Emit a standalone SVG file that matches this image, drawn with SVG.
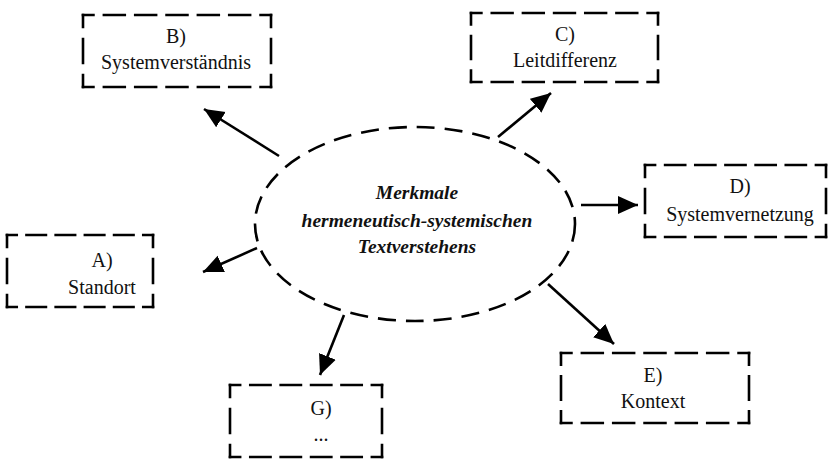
<svg xmlns="http://www.w3.org/2000/svg" width="832" height="459" viewBox="0 0 832 459">
<style>
.bx path{fill:none;stroke:#000;stroke-width:2.6;stroke-dasharray:20 10;stroke-dashoffset:10;stroke-linecap:square}
.lbl{font-family:"Liberation Serif","Times New Roman",serif;font-size:20px;text-anchor:middle;fill:#111}
.ttl{font-family:"Liberation Serif","Times New Roman",serif;font-size:19.5px;font-style:italic;font-weight:bold;text-anchor:middle;fill:#111}
.cn line{stroke:#000;stroke-width:2.6;marker-end:url(#ah)}
</style>
<defs>
<marker id="ah" markerUnits="userSpaceOnUse" markerWidth="22" markerHeight="20" viewBox="0 0 22 20" refX="20" refY="10" orient="auto">
<path d="M0,1 L20,10 L0,19 Z" fill="#000"/>
</marker>
</defs>
<rect width="832" height="459" fill="#fff"/>
<g id="center">
<ellipse cx="415" cy="224" rx="160" ry="97" fill="none" stroke="#000" stroke-width="2.6" stroke-dasharray="18 10"/>
<text class="ttl" x="417" y="199">Merkmale</text>
<text class="ttl" x="417" y="227">hermeneutisch-systemischen</text>
<text class="ttl" x="417" y="253">Textverstehens</text>
</g>
<g class="cn" id="connectors">
<line x1="279" y1="156" x2="204" y2="109"/>
<line x1="498" y1="137" x2="551" y2="93"/>
<line x1="581" y1="205" x2="638" y2="205"/>
<line x1="257" y1="248" x2="203" y2="272"/>
<line x1="344" y1="315" x2="320" y2="375"/>
<line x1="548" y1="284" x2="614" y2="344"/>
</g>
<g id="nodeB" class="bx">
<path d="M83,15 H271" pathLength="180"/>
<path d="M271,15 V87" pathLength="60"/>
<path d="M271,87 H83" pathLength="180"/>
<path d="M83,87 V15" pathLength="60"/>
<text class="lbl" x="176" y="43">B)</text>
<text class="lbl" x="176" y="69">Systemverständnis</text>
</g>
<g id="nodeC" class="bx">
<path d="M471,13 H658" pathLength="180"/>
<path d="M658,13 V82" pathLength="60"/>
<path d="M658,82 H471" pathLength="180"/>
<path d="M471,82 V13" pathLength="60"/>
<text class="lbl" x="565" y="41">C)</text>
<text class="lbl" x="565" y="67">Leitdifferenz</text>
</g>
<g id="nodeD" class="bx">
<path d="M645,165 H826" pathLength="180"/>
<path d="M826,165 V237" pathLength="60"/>
<path d="M826,237 H645" pathLength="180"/>
<path d="M645,237 V165" pathLength="60"/>
<text class="lbl" x="740" y="193">D)</text>
<text class="lbl" x="740" y="221">Systemvernetzung</text>
</g>
<g id="nodeA" class="bx">
<path d="M7,235 H153" pathLength="150"/>
<path d="M153,235 V307" pathLength="60"/>
<path d="M153,307 H7" pathLength="150"/>
<path d="M7,307 V235" pathLength="60"/>
<text class="lbl" x="102" y="267">A)</text>
<text class="lbl" x="102" y="294">Standort</text>
</g>
<g id="nodeG" class="bx">
<path d="M230,385 H382" pathLength="150"/>
<path d="M382,385 V457" pathLength="60"/>
<path d="M382,457 H230" pathLength="150"/>
<path d="M230,457 V385" pathLength="60"/>
<text class="lbl" x="321" y="415">G)</text>
<text class="lbl" x="321" y="441">...</text>
</g>
<g id="nodeE" class="bx">
<path d="M561,353 H749" pathLength="180"/>
<path d="M749,353 V423" pathLength="60"/>
<path d="M749,423 H561" pathLength="180"/>
<path d="M561,423 V353" pathLength="60"/>
<text class="lbl" x="653" y="382">E)</text>
<text class="lbl" x="653" y="408">Kontext</text>
</g>
</svg>
